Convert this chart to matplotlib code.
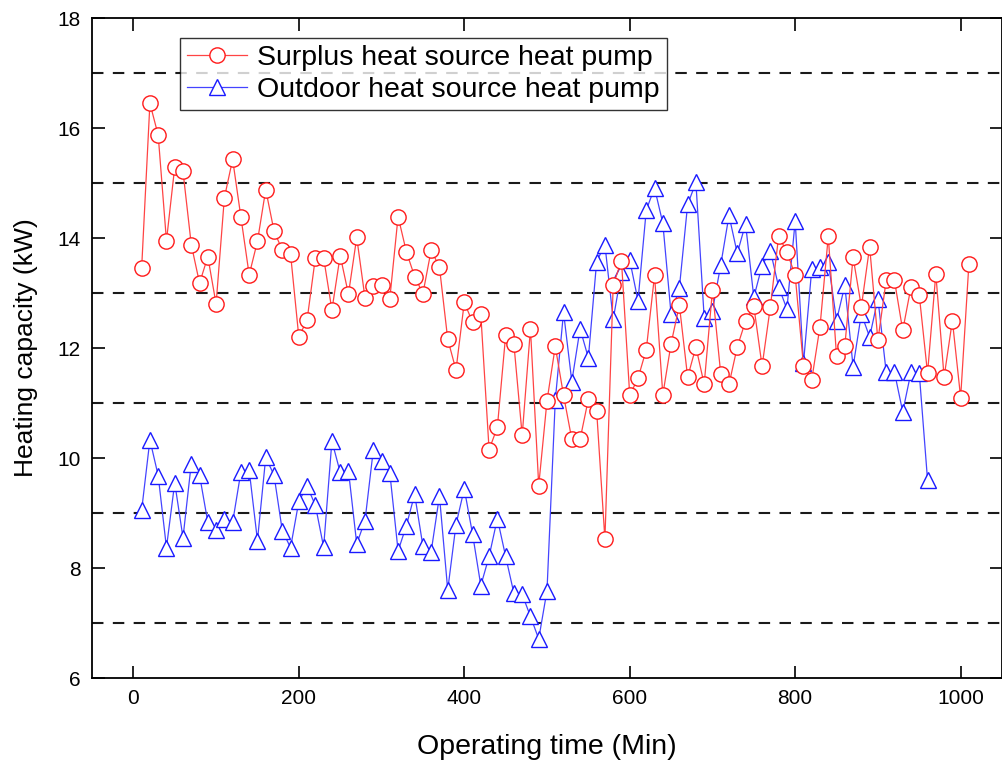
import matplotlib
matplotlib.use("Agg")
import matplotlib.pyplot as plt

plt.rcParams['font.family'] = ['Liberation Sans', 'DejaVu Sans']

# Operating time (min) for each recorded sample
time_surplus = list(range(10, 1011, 10))
time_outdoor = list(range(10, 961, 10))

# Heating capacity (kW), surplus heat source heat pump
cap_surplus = [
    13.45, 16.45, 15.87, 13.95, 15.29, 15.21, 13.88, 13.18, 13.66, 12.80,
    14.73, 15.43, 14.38, 13.33, 13.94, 14.88, 14.13, 13.78, 13.71, 12.20,
    12.51, 13.64, 13.64, 12.69, 13.68, 12.98, 14.01, 12.91, 13.12, 13.15,
    12.90, 14.39, 13.75, 13.30, 12.99, 13.78, 13.47, 12.16, 11.60, 12.83,
    12.47, 12.61, 10.15, 10.56, 12.23, 12.07, 10.41, 12.35, 9.50, 11.04,
    12.03, 11.14, 10.34, 10.34, 11.07, 10.86, 8.52, 13.14, 13.59, 11.14,
    11.45, 11.97, 13.32, 11.15, 12.08, 12.78, 11.47, 12.02, 11.34, 13.05,
    11.53, 11.34, 12.02, 12.49, 12.76, 11.67, 12.75, 14.03, 13.75, 13.32,
    11.68, 11.42, 12.39, 14.03, 11.85, 12.04, 13.65, 12.75, 13.84, 12.14,
    13.23, 13.23, 12.32, 13.11, 12.96, 11.54, 13.35, 11.47, 12.50, 11.10,
    13.53,
]

# Heating capacity (kW), outdoor heat source heat pump
cap_outdoor = [
    9.05, 10.33, 9.68, 8.37, 9.55, 8.55, 9.90, 9.69, 8.83, 8.69,
    8.90, 8.83, 9.75, 9.78, 8.50, 10.01, 9.69, 8.68, 8.37, 9.21,
    9.49, 9.14, 8.38, 10.31, 9.74, 9.77, 8.44, 8.86, 10.14, 9.94,
    9.73, 8.31, 8.77, 9.34, 8.40, 8.30, 9.31, 7.60, 8.79, 9.44,
    8.62, 7.68, 8.21, 8.90, 8.21, 7.54, 7.52, 7.12, 6.71, 7.59,
    11.05, 12.65, 11.39, 12.35, 11.82, 13.57, 13.88, 12.52, 13.38, 13.60,
    12.86, 14.51, 14.91, 14.27, 12.61, 13.09, 14.61, 15.01, 12.55, 12.68,
    13.51, 14.41, 13.72, 14.26, 12.92, 13.50, 13.77, 13.11, 12.71, 14.31,
    11.72, 13.43, 13.48, 13.56, 12.50, 13.14, 11.66, 12.62, 12.20, 12.90,
    11.56, 11.56, 10.84, 11.56, 11.54, 9.60,
]

x_ticks = [0, 200, 400, 600, 800, 1000]
y_ticks = [6, 8, 10, 12, 14, 16, 18]
ref_levels = [7, 9, 11, 13, 15, 17]

fig = plt.figure(figsize=(10.03, 7.63), dpi=100)
ax = fig.add_axes([92 / 1003, 85 / 763, 910 / 1003, 660 / 763])

for lvl in ref_levels:
    ax.axhline(lvl, color='#1a1a1a', lw=1.5, dashes=(5.5, 4.5), zorder=1)

ax.plot(time_surplus, cap_surplus, color='#ff4444', lw=0.9, marker='o',
        markersize=11, markerfacecolor='white', markeredgecolor='#ff1a1a',
        markeredgewidth=1.0, label='Surplus heat source heat pump', zorder=3)
ax.plot(time_outdoor, cap_outdoor, color='#4444ff', lw=0.9, marker='^',
        markersize=12, markerfacecolor='white', markeredgecolor='#1a1aff',
        markeredgewidth=1.0, label='Outdoor heat source heat pump', zorder=2)

ax.set_xlim(-50, 1050)
ax.set_ylim(6, 18)
ax.set_xticks(x_ticks)
ax.set_yticks(y_ticks)
ax.tick_params(direction='in', length=9, width=1.2, labelsize=15, pad=8,
               top=True, right=True)

for sp in ax.spines.values():
    sp.set_linewidth(1.3)

ax.set_xlabel('Operating time (Min)', fontsize=20.5, labelpad=19)
ax.set_ylabel('Heating capacity (kW)', fontsize=19, labelpad=14)

leg = ax.legend(loc='upper left', bbox_to_anchor=(0.0967, 0.970),
                borderaxespad=0, fontsize=20.5, frameon=True, fancybox=False,
                edgecolor='black', handlelength=2.1, handletextpad=0.35,
                labelspacing=0.2, borderpad=0.25)
leg.get_frame().set_linewidth(1.0)

fig.savefig('out.png', dpi=100)
